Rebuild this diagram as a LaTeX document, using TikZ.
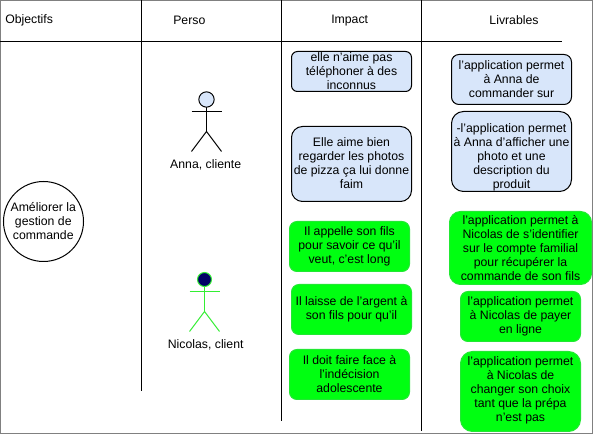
\documentclass[tikz,border=0pt]{standalone}
\usepackage{fontspec}
\setmainfont{Liberation Sans}
\definecolor{lblue}{HTML}{D8E6FA}
\definecolor{lgreen}{HTML}{00FF11}
\definecolor{gedge}{HTML}{22E833}
\definecolor{navy}{HTML}{000066}
\definecolor{frame}{HTML}{808080}
\definecolor{actgreen}{HTML}{33EE33}
\tikzset{
  txt/.style={inner sep=0pt,align=center,font=\fontsize{9.2}{10.5}\selectfont,text=black,yshift=-0.5pt},
  rule/.style={draw=black,line width=0.75pt},
  bluebox/.style={draw=black,fill=lblue,line width=0.75pt},
  greenbox/.style={draw=gedge,fill=lgreen,line width=0.75pt},
  actorline/.style={line width=0.75pt},
}
\newcommand{\boxat}[7]{%
  \path[#1,rounded corners=#6*0.75pt] (#2,#3) rectangle (#4,#5);
  \node[txt] at ({(#2+#4)/2},#7)}
\begin{document}
\begin{tikzpicture}[x=0.75pt,y=-0.75pt]
\useasboundingbox (0,0) rectangle (593,434);
\fill[white] (0,0) rectangle (593,434);
\draw[frame,line width=0.75pt] (0.5,0.5) rectangle (592.5,433.5);
\coordinate (hl) at (0,41.5); \coordinate (hr) at (561.5,41.5);
\coordinate (v1t) at (141.5,0); \coordinate (v1b) at (141.5,391);
\coordinate (v2t) at (281.5,0); \coordinate (v2b) at (281.5,421.5);
\coordinate (v3t) at (421.5,0); \coordinate (v3b) at (421.5,431.5);
\draw[rule] (hl) -- (hr);
\draw[rule] (v1t) -- (v1b);
\draw[rule] (v2t) -- (v2b);
\draw[rule] (v3t) -- (v3b);
\node[txt,anchor=west] (objectifs) at (5,19.7) {Objectifs};
\node[txt] (perso) at (189.3,19.7) {Perso};
\node[txt] (impact) at (349.7,19.7) {Impact};
\node[txt] (livrables) at (514,19.7) {Livrables};
% circle
\node[draw=black,circle,minimum size=60pt,inner sep=0pt,line width=0.75pt,fill=white] (goal) at (43.5,221.5) {};
\node[txt] (goaltxt) at (43.3,220.5) {Améliorer la\\gestion de\\commande};
% Anna
\coordinate (aneck) at (206.5,107);
\coordinate (ahip) at (206.5,131.5);
\draw[actorline] (aneck) -- (ahip);
\draw[actorline] (191.5,111.5) -- (221.5,111.5);
\draw[actorline] (191.5,151.5) -- (ahip) -- (221.5,151.5);
\node[draw=black,fill=lblue,circle,minimum size=11.5pt,inner sep=0pt,line width=0.75pt] (ahead) at (206.5,99.5) {};
\node[txt] (anna) at (205.7,163.7) {Anna, cliente};
% Nicolas
\coordinate (nneck) at (204.5,286);
\coordinate (nhip) at (204.5,311.5);
\draw[actorline,actgreen] (nneck) -- (nhip);
\draw[actorline,actgreen] (189.5,291.5) -- (219.5,291.5);
\draw[actorline,actgreen] (189.5,331.5) -- (nhip) -- (219.5,331.5);
\node[draw=actgreen,fill=navy,circle,minimum size=10.5pt,inner sep=0pt,line width=0.75pt] (nhead) at (204.5,279.5) {};
\node[txt] (nicolas) at (205.7,343.7) {Nicolas, client};
% Impact boxes
\boxat{bluebox}{291.5}{51.5}{411.5}{91.5}{6}{70.5} (i1) {elle n'aime pas\\téléphoner à des\\inconnus};
\boxat{bluebox}{291.5}{126.5}{411.5}{201.5}{11}{162.3} (i2) {Elle aime bien\\regarder les photos\\de pizza ça lui donne\\faim};
\boxat{greenbox}{289.5}{221.5}{409.5}{271.5}{7.5}{245.7} (i3) {Il appelle son fils\\pour savoir ce qu'il\\veut, c'est long};
\boxat{greenbox}{291.5}{284.5}{411.5}{334.5}{7.5}{308.3} (i4) {Il laisse de l'argent à\\son fils pour qu'il};
\boxat{greenbox}{289.5}{349.5}{409.5}{399.5}{7.5}{373.7} (i5) {Il doit faire face à\\l'indécision\\adolescente};
% Livrables boxes
\boxat{bluebox}{451.5}{54.5}{571.5}{104.5}{7.5}{78} (l1) {l'application permet\\à Anna de\\commander sur};
\boxat{bluebox}{451.5}{111.5}{571.5}{191.5}{12}{156.7} (l2) {-l'application permet\\à Anna d'afficher une\\photo et une\\description du\\produit};
\boxat{greenbox}{449.5}{211.5}{591.5}{284.5}{11}{247} (l3) {l'application permet à\\Nicolas de s'identifier\\sur le compte familial\\pour récupérer la\\commande de son fils};
\boxat{greenbox}{460.5}{291.5}{580.5}{341.5}{7.5}{315.7} (l4) {l'application permet\\à Nicolas de payer\\en ligne};
\boxat{greenbox}{460.5}{351.5}{580.5}{431.5}{12}{390} (l5) {l'application permet\\à Nicolas de\\changer son choix\\tant que la prépa\\n'est pas};
\end{tikzpicture}
\end{document}
